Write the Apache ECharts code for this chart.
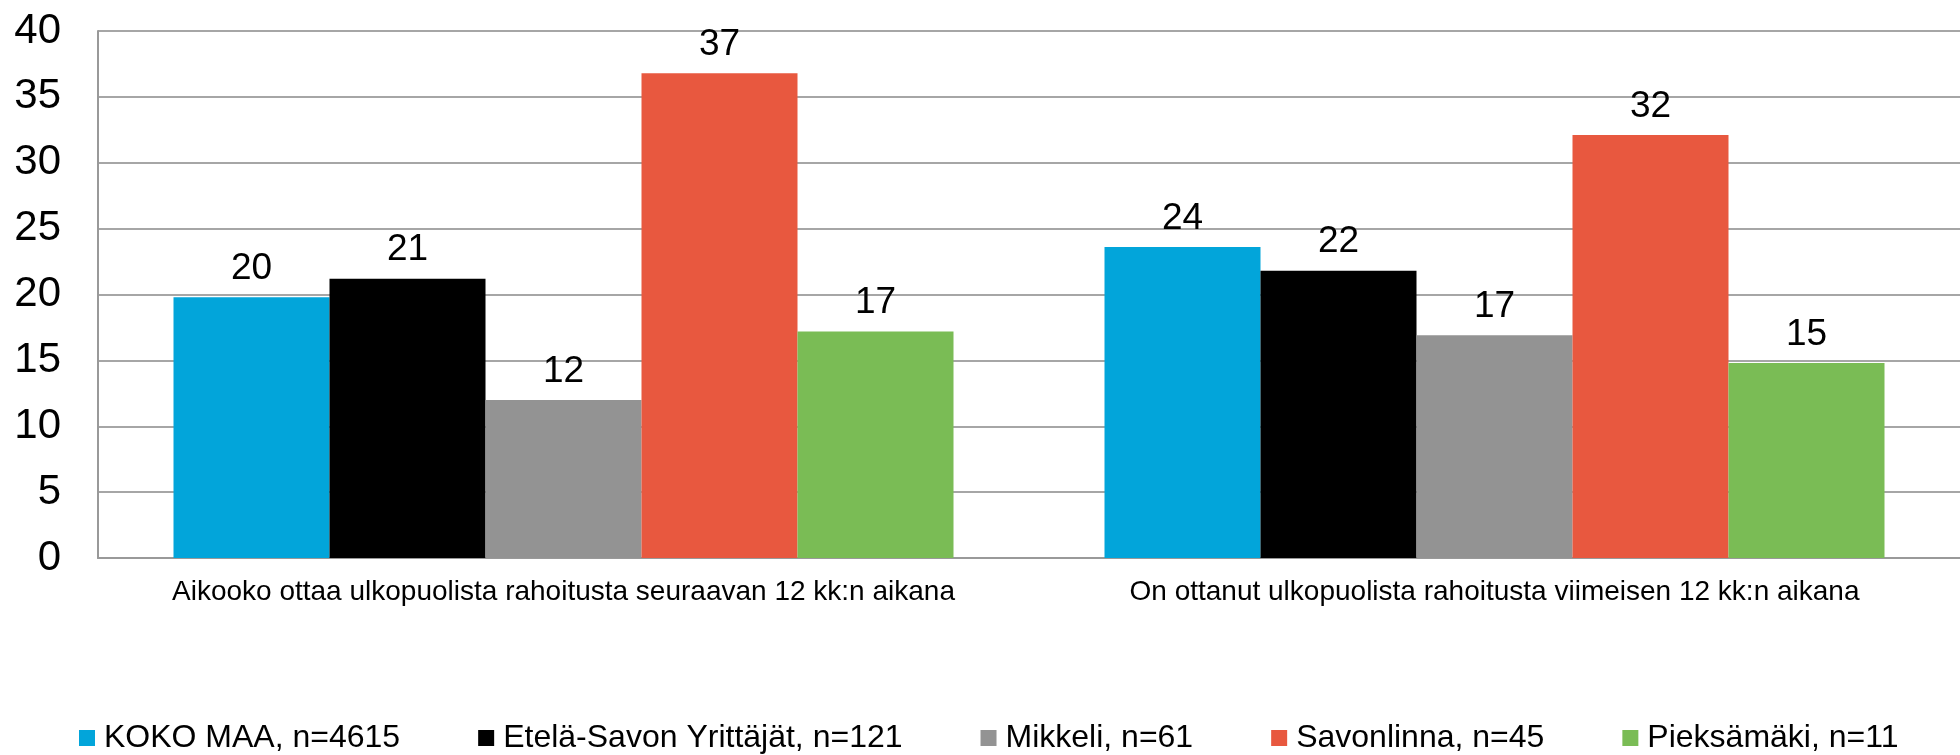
<!DOCTYPE html>
<html>
<head>
<meta charset="utf-8">
<script src="https://cdn.jsdelivr.net/npm/echarts@6/dist/echarts.min.js"></script>
<style>
    html, body { margin: 0; padding: 0; background: #fff; }
    #chart { width: 1960px; height: 755px; }
</style>
</head>
<body>
<div id="chart"></div>
<script>
// 类目
const categories = [
    'Aikooko ottaa ulkopuolista rahoitusta seuraavan 12 kk:n aikana',
    'On ottanut ulkopuolista rahoitusta viimeisen 12 kk:n aikana'
]
// 各系列数值（%）
const kokoMaa = [19.8, 23.6]
const etelaSavo = [21.2, 21.8]
const mikkeli = [12.0, 16.9]
const savonlinna = [36.8, 32.1]
const pieksamaki = [17.2, 14.8]
// y 轴刻度
const yTicks = [0, 5, 10, 15, 20, 25, 30, 35, 40]

const seriesNames = ['KOKO MAA, n=4615', 'Etelä-Savon Yrittäjät, n=121', 'Mikkeli, n=61', 'Savonlinna, n=45', 'Pieksämäki, n=11']
const seriesValues = [kokoMaa, etelaSavo, mikkeli, savonlinna, pieksamaki]
const colors = ['#02a5da', '#000000', '#939393', '#e8583f', '#7abc55']

const font = '"Liberation Sans", Arial, sans-serif'

const seriesData = seriesNames.map((name, i) => ({
    type: 'bar',
    name: name,
    data: seriesValues[i],
    barWidth: 156,
    barGap: '0%',
    itemStyle: { color: colors[i] },
    label: {
        show: true,
        position: 'top',
        distance: 10,
        color: '#000',
        fontFamily: font,
        fontSize: 37,
        formatter: (p) => Math.round(p.value)
    }
}))

const cs = echarts.init(document.getElementById('chart'))
const option = {
    animation: false,
    color: colors,
    grid: { left: 98, right: -14, top: 31, bottom: 197, containLabel: false },
    xAxis: {
        type: 'category',
        data: categories,
        axisLine: { show: true, lineStyle: { color: '#999', width: 2 } },
        axisTick: { show: false },
        axisLabel: { color: '#000', fontFamily: font, fontSize: 28, margin: 20, interval: 0 }
    },
    yAxis: {
        type: 'value',
        min: yTicks[0],
        max: yTicks[yTicks.length - 1],
        interval: yTicks[1] - yTicks[0],
        axisLine: { show: true, lineStyle: { color: '#999', width: 2 } },
        axisTick: { show: false },
        splitLine: { show: true, lineStyle: { color: '#a6a6a6', width: 2 } },
        axisLabel: { color: '#000', fontFamily: font, fontSize: 42, margin: 37 }
    },
    legend: {
        show: true,
        left: 79,
        top: 722,
        padding: 0,
        icon: 'rect',
        itemWidth: 16,
        itemHeight: 16,
        itemGap: 78,
        textStyle: { color: '#000', fontFamily: font, fontSize: 32, padding: [0, 0, 0, 4] },
        data: seriesNames
    },
    series: seriesData
}
cs.setOption(option)
</script>
</body>
</html>
